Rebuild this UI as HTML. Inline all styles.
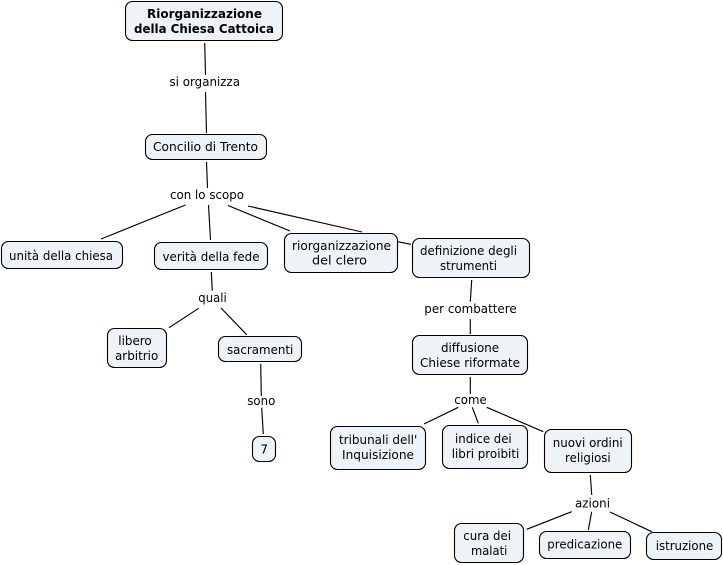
<!DOCTYPE html>
<html lang="it">
<head>
<meta charset="utf-8">
<title>Riorganizzazione della Chiesa Cattolica</title>
<style>
html,body{margin:0;padding:0;background:#fff;width:723px;height:565px;overflow:hidden}
svg{display:block}
line{stroke:#000;stroke-width:1.15}
rect{fill:#edf3f6;stroke:#000;stroke-width:1.1}
text{font-family:"DejaVu Sans","Liberation Sans",sans-serif;font-size:12.3px;fill:#000}
.b{font-weight:bold}
</style>
</head>
<body>
<svg width="723" height="565" viewBox="0 0 723 565" xmlns="http://www.w3.org/2000/svg">
<line x1="204.7" y1="43" x2="205.5" y2="75"/>
<line x1="205.5" y1="92" x2="206.5" y2="133"/>
<line x1="206.5" y1="162" x2="207.5" y2="188"/>
<line x1="185.5" y1="205" x2="101" y2="239"/>
<line x1="208.5" y1="205" x2="210.5" y2="240"/>
<line x1="228" y1="205.5" x2="290" y2="231"/>
<line x1="248" y1="206" x2="362" y2="232"/>
<line x1="397.7" y1="241.7" x2="411" y2="244.3"/>
<line x1="211.3" y1="272" x2="212.3" y2="290.7"/>
<line x1="198.7" y1="308.3" x2="169" y2="327.7"/>
<line x1="221" y1="308" x2="246.7" y2="334.7"/>
<line x1="260.7" y1="364" x2="261.3" y2="396"/>
<line x1="261.7" y1="407.7" x2="263.3" y2="434"/>
<line x1="471.7" y1="280" x2="470.3" y2="301.7"/>
<line x1="470.3" y1="319" x2="470.3" y2="334"/>
<line x1="470.3" y1="377" x2="470.3" y2="394"/>
<line x1="458.3" y1="407.3" x2="424" y2="424"/>
<line x1="472.3" y1="407.3" x2="478.3" y2="423.3"/>
<line x1="486.7" y1="407.3" x2="543.3" y2="431.7"/>
<line x1="590.3" y1="475" x2="591.7" y2="495"/>
<line x1="571.7" y1="511.7" x2="526.7" y2="529.3"/>
<line x1="591.7" y1="511.7" x2="588.3" y2="530"/>
<line x1="610" y1="512" x2="651.7" y2="531.7"/>

<rect x="125.5" y="1.5" width="157" height="39" rx="7"/>
<rect x="145.5" y="134.5" width="121" height="25" rx="7"/>
<rect x="1.5" y="241.5" width="121" height="27" rx="7"/>
<rect x="154.5" y="242.5" width="113" height="27" rx="7"/>
<rect x="284.5" y="233.5" width="113" height="39" rx="7"/>
<rect x="412.5" y="238.5" width="117" height="39" rx="7"/>
<rect x="107.5" y="328.5" width="59" height="39" rx="7"/>
<rect x="218.5" y="336.5" width="83" height="25" rx="7"/>
<rect x="252.5" y="436.5" width="23" height="25" rx="7"/>
<rect x="412.5" y="335.5" width="115" height="39" rx="7"/>
<rect x="330.5" y="426.5" width="95" height="43" rx="7"/>
<rect x="442.5" y="425.5" width="85" height="43" rx="7"/>
<rect x="544.5" y="429.5" width="87" height="43" rx="7"/>
<rect x="454.5" y="523.5" width="69" height="39" rx="7"/>
<rect x="539.5" y="531.5" width="91" height="27" rx="7"/>
<rect x="646.5" y="532.5" width="75" height="27" rx="7"/>

<text class="b" x="147" y="18" textLength="115" lengthAdjust="spacingAndGlyphs">Riorganizzazione</text>
<text class="b" x="134" y="33" textLength="140" lengthAdjust="spacingAndGlyphs">della Chiesa Cattoica</text>
<text x="169.5" y="86" textLength="70.5" lengthAdjust="spacingAndGlyphs">si organizza</text>
<text x="153" y="151" textLength="105" lengthAdjust="spacingAndGlyphs">Concilio di Trento</text>
<text x="170" y="199" textLength="74" lengthAdjust="spacingAndGlyphs">con lo scopo</text>
<text x="9" y="260" textLength="104" lengthAdjust="spacingAndGlyphs">unità della chiesa</text>
<text x="162.5" y="261" textLength="97" lengthAdjust="spacingAndGlyphs">verità della fede</text>
<text x="292" y="250" textLength="99" lengthAdjust="spacingAndGlyphs">riorganizzazione</text>
<text x="312" y="264.5" textLength="55" lengthAdjust="spacingAndGlyphs">del clero</text>
<text x="420" y="255" textLength="97" lengthAdjust="spacingAndGlyphs">definizione degli</text>
<text x="440" y="270" textLength="57" lengthAdjust="spacingAndGlyphs">strumenti</text>
<text x="198.3" y="302" textLength="28.4" lengthAdjust="spacingAndGlyphs">quali</text>
<text x="118.3" y="345" textLength="33.4" lengthAdjust="spacingAndGlyphs">libero</text>
<text x="115" y="360" textLength="43.3" lengthAdjust="spacingAndGlyphs">arbitrio</text>
<text x="227" y="354" textLength="66.3" lengthAdjust="spacingAndGlyphs">sacramenti</text>
<text x="247.3" y="405" textLength="28" lengthAdjust="spacingAndGlyphs">sono</text>
<text x="260.3" y="453.5">7</text>
<text x="424.3" y="313" textLength="92.4" lengthAdjust="spacingAndGlyphs">per combattere</text>
<text x="441" y="352" textLength="58" lengthAdjust="spacingAndGlyphs">diffusione</text>
<text x="420" y="367" textLength="100" lengthAdjust="spacingAndGlyphs">Chiese riformate</text>
<text x="454.3" y="404" textLength="32.4" lengthAdjust="spacingAndGlyphs">come</text>
<text x="339" y="444" textLength="78.3" lengthAdjust="spacingAndGlyphs">tribunali dell'</text>
<text x="342" y="459" textLength="72" lengthAdjust="spacingAndGlyphs">Inquisizione</text>
<text x="455" y="443" textLength="56.7" lengthAdjust="spacingAndGlyphs">indice dei</text>
<text x="451.7" y="458" textLength="67.6" lengthAdjust="spacingAndGlyphs">libri proibiti</text>
<text x="552.7" y="447" textLength="70" lengthAdjust="spacingAndGlyphs">nuovi ordini</text>
<text x="565" y="462" textLength="45.7" lengthAdjust="spacingAndGlyphs">religiosi</text>
<text x="575" y="507.5" textLength="35" lengthAdjust="spacingAndGlyphs">azioni</text>
<text x="463.3" y="540" textLength="47.7" lengthAdjust="spacingAndGlyphs">cura dei</text>
<text x="471" y="555" textLength="36.3" lengthAdjust="spacingAndGlyphs">malati</text>
<text x="547.3" y="548.3" textLength="75" lengthAdjust="spacingAndGlyphs">predicazione</text>
<text x="655.7" y="550" textLength="57.6" lengthAdjust="spacingAndGlyphs">istruzione</text>
</svg>
</body>
</html>
